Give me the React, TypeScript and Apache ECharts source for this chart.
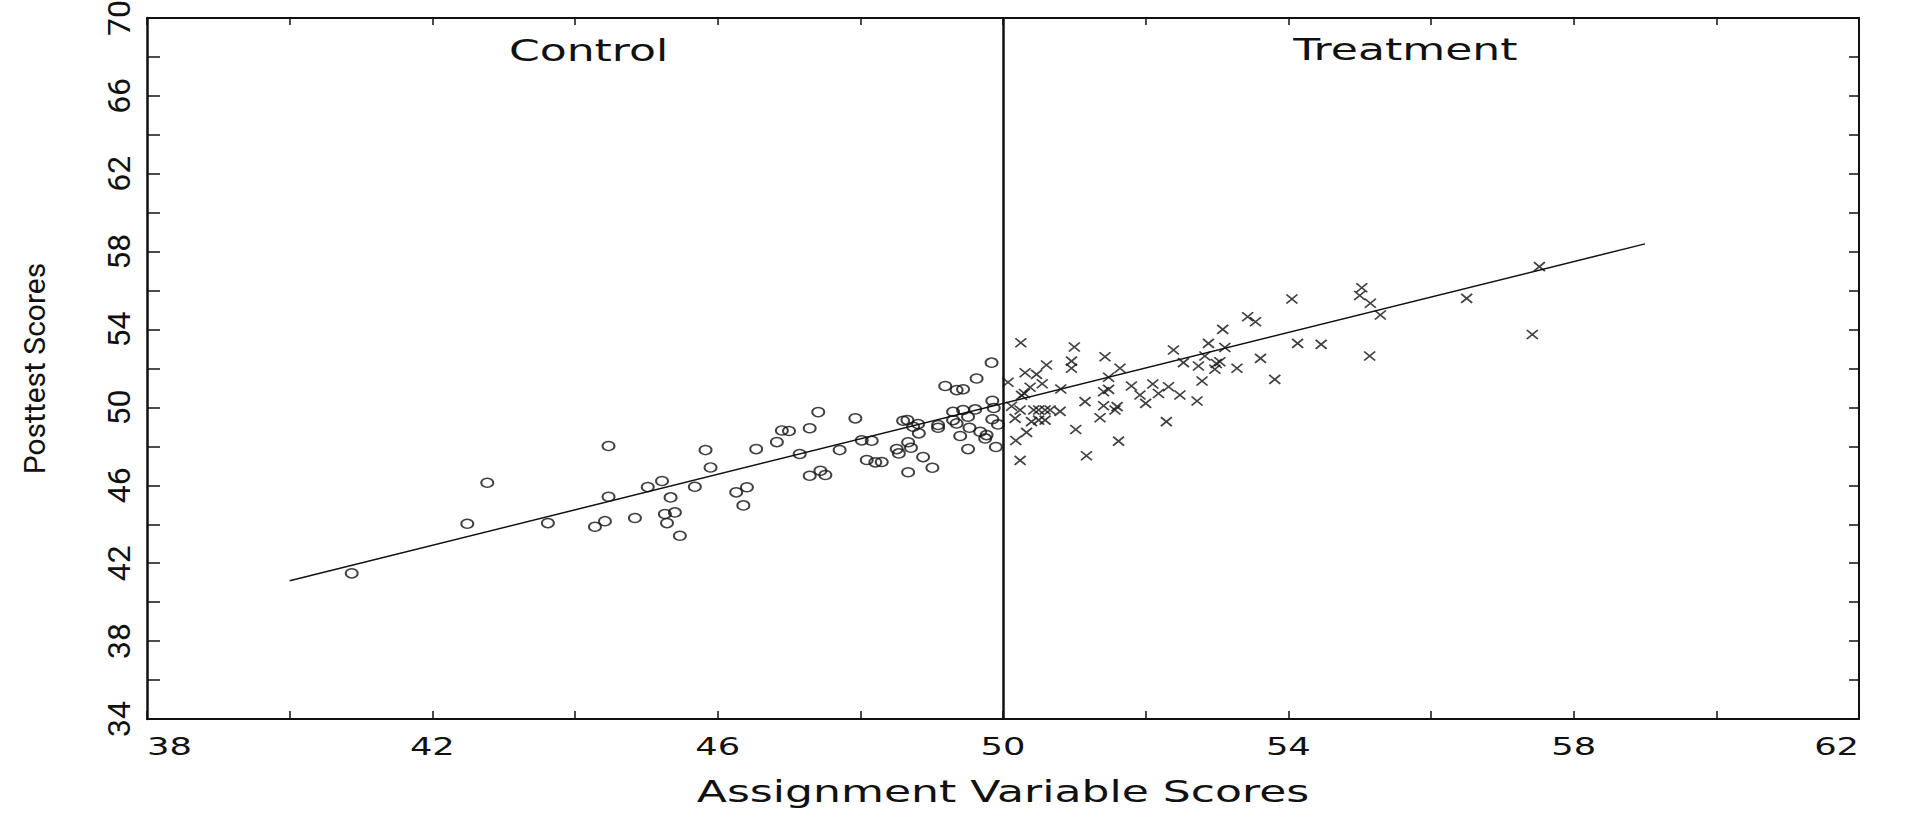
import React, { useEffect, useRef } from "react";
import * as echarts from "echarts";

// Control group (assignment score below the 50 cut-off)
const controlAssign = [
  40.87, 42.49, 42.77, 43.62, 44.28, 44.42, 44.47, 44.47, 44.84, 45.02,
  45.22, 45.34, 45.26, 45.4, 45.29, 45.47, 45.68, 45.83, 45.9, 46.26,
  46.41, 46.36, 46.54, 46.83, 46.9, 47.0, 47.29, 47.15, 47.41, 47.29,
  47.44, 47.51, 47.71, 47.93, 48.02, 48.16, 48.09, 48.21, 48.3, 48.51,
  48.54, 48.6, 48.66, 48.74, 48.81, 48.67, 48.71, 48.82, 48.88, 49.01,
  48.67, 49.09, 49.09, 49.19, 49.35, 49.44, 49.3, 49.44, 49.61, 49.3,
  49.35, 49.51, 49.4, 49.53, 49.68, 49.77, 49.75, 49.51, 49.63, 49.84,
  49.85, 49.87, 49.85, 49.93, 49.9,
];
const controlPost = [
  41.48, 44.03, 46.13, 44.06, 43.87, 44.16, 48.02, 45.41, 44.32, 45.91,
  46.22, 45.38, 44.53, 44.61, 44.06, 43.41, 45.93, 47.81, 46.92, 45.64,
  45.9, 44.97, 47.86, 48.22, 48.82, 48.79, 48.93, 47.61, 49.76, 46.49,
  46.75, 46.53, 47.81, 49.44, 48.31, 48.29, 47.3, 47.18, 47.2, 47.86,
  47.64, 49.32, 49.35, 49.01, 49.15, 48.21, 47.93, 48.67, 47.45, 46.9,
  46.67, 49.1, 48.96, 51.1, 50.89, 50.93, 49.78, 49.87, 49.9, 49.35,
  49.18, 49.52, 48.53, 48.96, 48.75, 48.58, 48.41, 47.86, 51.49, 52.3,
  50.34, 49.97, 49.39, 49.13, 47.97,
];

// Treatment group (assignment score at or above the cut-off)
const treatAssign = [
  50.25, 50.07, 50.31, 50.47, 50.61, 50.38, 50.55, 50.26, 50.3, 50.81,
  51.0, 50.96, 50.96, 50.12, 50.24, 50.17, 50.43, 50.5, 50.59, 50.66,
  50.8, 50.4, 50.5, 50.59, 50.33, 50.18, 50.24, 51.02, 51.43, 51.64,
  51.48, 51.41, 51.48, 51.8, 52.1, 52.32, 51.92, 52.18, 52.0, 52.48,
  52.39, 52.53, 52.74, 52.83, 52.88, 52.79, 52.72, 52.29, 52.99, 52.97,
  53.04, 53.08, 53.11, 53.28, 53.43, 53.54, 53.61, 53.81, 54.05, 54.13,
  54.46, 55.03, 55.0, 55.15, 55.29, 55.14, 56.5, 57.52, 57.42, 51.15,
  51.41, 51.6, 51.57, 51.36, 51.62, 51.17,
];
const treatPost = [
  53.32, 51.29, 51.78, 51.7, 52.18, 51.04, 51.22, 50.62, 50.72, 50.95,
  53.1, 52.38, 52.01, 50.06, 49.87, 49.44, 49.87, 49.87, 49.87, 49.87,
  49.8, 49.27, 49.35, 49.35, 48.72, 48.3, 47.28, 48.87, 52.6, 52.01,
  51.55, 50.81, 50.93, 51.1, 51.2, 51.06, 50.64, 50.72, 50.21, 50.64,
  52.95, 52.3, 52.13, 52.64, 53.29, 51.36, 50.33, 49.27, 52.26, 51.96,
  52.35, 54.01, 53.08, 52.01, 54.66, 54.4, 52.52, 51.44, 55.57, 53.29,
  53.24, 56.15, 55.75, 55.35, 54.75, 52.64, 55.6, 57.23, 53.75, 50.3,
  50.09, 50.04, 49.87, 49.47, 48.27, 47.52,
];

// Fitted regression line endpoints
const fitAssign = [40, 59];
const fitPost = [41.1, 58.4];

// Cut-off score on the assignment variable
const cutoff = 50;

// Axis ranges and tick labels
const xRange = [38, 62];
const yRange = [34, 70];
const xTickLabels = [38, 42, 46, 50, 54, 58, 62];
const yTickLabels = [34, 38, 42, 46, 50, 54, 58, 62, 66, 70];

// Group captions placed in data units
const groupCaptions = [
  { text: "Control", at: [44.19, 68.3] },
  { text: "Treatment", at: [55.64, 68.35] },
];

const xTitle = "Assignment Variable Scores";
const yTitle = "Posttest Scores";

const INK = "#111";
const WIDE_FONT = '"DejaVu Sans", sans-serif';
const NARROW_FONT = '"Liberation Sans Narrow", Roboto, sans-serif';
const WIDE_SCALE = 1.47;

function zip(a: number[], b: number[]) {
  return a.map((v, i) => [v, b[i]]);
}

function wideText(
  text: string,
  x: number,
  y: number,
  size: number,
  align: "left" | "center" | "right"
) {
  return {
    type: "text",
    x,
    y,
    scaleX: WIDE_SCALE,
    silent: true,
    style: {
      text,
      fill: INK,
      fontSize: size,
      fontFamily: WIDE_FONT,
      align,
      verticalAlign: "middle",
      textAlign: align,
      textVerticalAlign: "middle",
    },
  };
}

export default function App() {
  const ref = useRef<HTMLDivElement>(null);

  useEffect(() => {
    if (!ref.current) return;
    const chart = echarts.init(ref.current, null, { renderer: "svg" });

    const frameLine = { show: true, onZero: false, lineStyle: { color: INK, width: 2 } };

    chart.setOption({
      animation: false,
      backgroundColor: "#ffffff",
      grid: {
        left: 147,
        right: 46,
        top: 18,
        bottom: 94,
        containLabel: false,
        outerBoundsMode: "none",
      },
      xAxis: [
        {
          type: "value",
          position: "bottom",
          min: xRange[0],
          max: xRange[1],
          interval: 2,
          axisLine: frameLine,
          axisTick: { show: true, inside: true, length: 8, lineStyle: { color: INK, width: 1.5 } },
          axisLabel: { show: false },
          splitLine: { show: false },
        },
        {
          type: "value",
          position: "top",
          min: xRange[0],
          max: xRange[1],
          interval: 2,
          axisLine: frameLine,
          axisTick: { show: true, inside: true, length: 7, lineStyle: { color: INK, width: 1.5 } },
          axisLabel: { show: false },
          splitLine: { show: false },
        },
      ],
      yAxis: [
        {
          type: "value",
          position: "left",
          min: yRange[0],
          max: yRange[1],
          interval: 2,
          axisLine: { ...frameLine, lineStyle: { color: INK, width: 2.5 } },
          axisTick: { show: true, inside: true, length: 13, lineStyle: { color: INK, width: 1.5 } },
          axisLabel: {
            show: true,
            rotate: 90,
            margin: 12,
            color: INK,
            fontSize: 32,
            fontFamily: NARROW_FONT,
            formatter: (v: number) => (yTickLabels.includes(v) ? String(v) : ""),
          },
          splitLine: { show: false },
          name: yTitle,
          nameLocation: "middle",
          nameRotate: 90,
          nameGap: 98,
          nameTextStyle: { color: INK, fontSize: 30, fontFamily: "Roboto, sans-serif" },
        },
        {
          type: "value",
          position: "right",
          min: yRange[0],
          max: yRange[1],
          interval: 2,
          axisLine: frameLine,
          axisTick: { show: true, inside: true, length: 10, lineStyle: { color: INK, width: 1.5 } },
          axisLabel: { show: false },
          splitLine: { show: false },
        },
      ],
      series: [
        {
          name: "Fit",
          type: "line",
          xAxisIndex: 0,
          yAxisIndex: 0,
          data: zip(fitAssign, fitPost),
          showSymbol: false,
          symbol: "none",
          lineStyle: { color: INK, width: 1.5 },
          silent: true,
          z: 2,
          markLine: {
            silent: true,
            symbol: ["none", "none"],
            label: { show: false },
            lineStyle: { color: INK, width: 2.5, type: "solid" },
            data: [{ xAxis: cutoff }],
          },
        },
        {
          name: "Control",
          type: "scatter",
          xAxisIndex: 0,
          yAxisIndex: 0,
          data: zip(controlAssign, controlPost),
          symbol: "circle",
          symbolSize: [12, 9],
          itemStyle: { color: "rgba(0,0,0,0)", borderColor: INK, borderWidth: 1.7 },
          emphasis: { disabled: true },
          silent: true,
          z: 3,
        },
        {
          name: "Treatment",
          type: "scatter",
          xAxisIndex: 0,
          yAxisIndex: 0,
          data: zip(treatAssign, treatPost),
          symbol: "path://M0,0L10,8M10,0L0,8",
          symbolSize: [11, 9],
          itemStyle: { color: INK, borderColor: INK, borderWidth: 1.7 },
          emphasis: { disabled: true },
          silent: true,
          z: 3,
        },
      ],
    });

    // Wide plotter-style texts: x tick labels, group captions and x-axis title
    const px = (v: number) => chart.convertToPixel({ xAxisIndex: 0 }, v) as number;
    const py = (v: number) => chart.convertToPixel({ yAxisIndex: 0 }, v) as number;
    const axisBottom = py(yRange[0]);
    const graphics: any[] = [];
    xTickLabels.forEach((v, i) => {
      const align = i === 0 ? "left" : i === xTickLabels.length - 1 ? "right" : "center";
      graphics.push(wideText(String(v), px(v), axisBottom + 28, 24, align));
    });
    groupCaptions.forEach((c) => {
      graphics.push(wideText(c.text, px(c.at[0]), py(c.at[1]), 30, "center"));
    });
    graphics.push(
      wideText(xTitle, (px(xRange[0]) + px(xRange[1])) / 2, axisBottom + 73, 30, "center")
    );
    chart.setOption({ graphic: { elements: graphics } });

    return () => chart.dispose();
  }, []);

  return (
    <div
      ref={ref}
      style={{ position: "fixed", left: 0, top: 0, width: 1905, height: 813, background: "#fff" }}
    />
  );
}
